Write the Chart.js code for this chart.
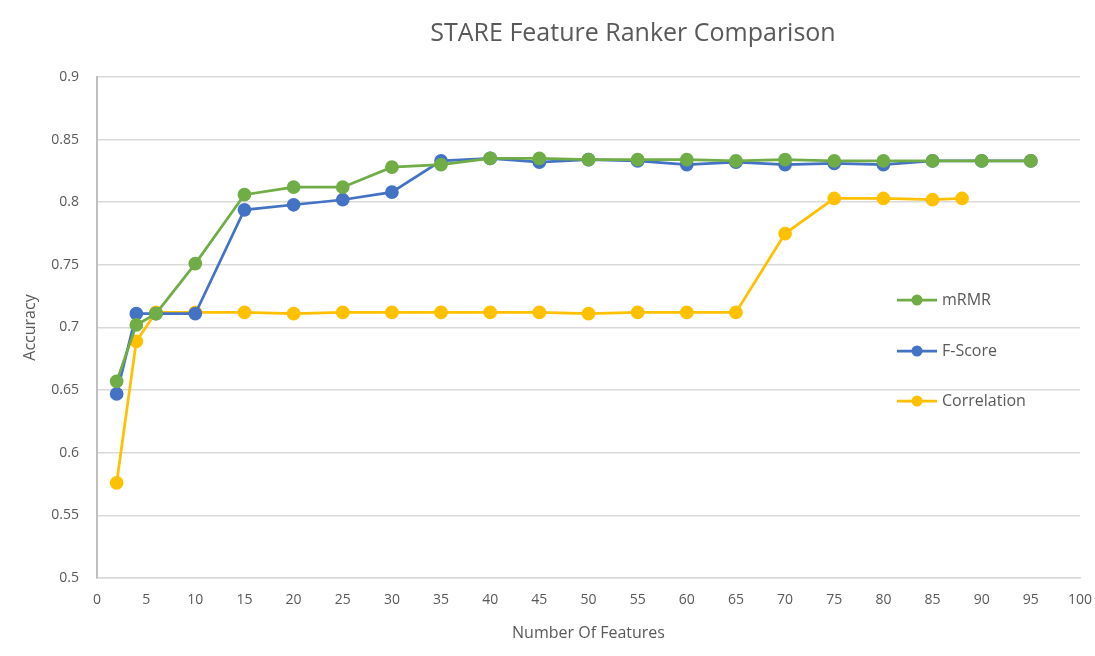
<!DOCTYPE html>
<html>
<head>
<meta charset="utf-8">
<script src="https://cdn.jsdelivr.net/npm/chart.js@4/dist/chart.umd.min.js"></script>
<style>
html,body{margin:0;padding:0;background:#fff;}
#wrap{width:1095px;height:656px;position:relative;}
</style>
</head>
<body>
<div id="wrap"><canvas id="c" width="1095" height="656"></canvas></div>
<script>
const chartTitle = "STARE Feature Ranker Comparison";
const xTitle = "Number Of Features";
const yTitle = "Accuracy";
const seriesNames = ["mRMR", "F-Score", "Correlation"];
const featureCounts = [2, 4, 6, 10, 15, 20, 25, 30, 35, 40, 45, 50, 55, 60, 65, 70, 75, 80, 85, 90, 95];
const mrmr = [0.657, 0.702, 0.711, 0.751, 0.806, 0.812, 0.812, 0.828, 0.830, 0.835, 0.835, 0.834, 0.834, 0.834, 0.833, 0.834, 0.833, 0.833, 0.833, 0.833, 0.833];
const fscore = [0.647, 0.711, 0.711, 0.711, 0.794, 0.798, 0.802, 0.808, 0.833, 0.835, 0.832, 0.834, 0.833, 0.830, 0.832, 0.830, 0.831, 0.830, 0.833, 0.833, 0.833];
const corrFeatureCounts = [2, 4, 6, 10, 15, 20, 25, 30, 35, 40, 45, 50, 55, 60, 65, 70, 75, 80, 85, 88];
const correlation = [0.576, 0.689, 0.712, 0.712, 0.712, 0.711, 0.712, 0.712, 0.712, 0.712, 0.712, 0.711, 0.712, 0.712, 0.712, 0.775, 0.803, 0.803, 0.802, 0.803];
const colors = ["#70AD47", "#4472C4", "#FFC000"];

const FONT = "'Open Sans', 'Liberation Sans', sans-serif";
const TXT = "#595959";

function pts(xs, ys){ return xs.map((x,i)=>({x:x, y:ys[i]})); }

const ds = [
  {label: seriesNames[0], data: pts(featureCounts, mrmr)},
  {label: seriesNames[1], data: pts(featureCounts, fscore)},
  {label: seriesNames[2], data: pts(corrFeatureCounts, correlation)}
].map((d,i)=>Object.assign(d,{
  borderColor: colors[i], backgroundColor: colors[i],
  pointBackgroundColor: colors[i], pointBorderColor: colors[i],
  borderWidth: 2.75, pointRadius: 5.5, pointHoverRadius: 5.5, tension: 0
}));

const textPlugin = {
  id: 'texts',
  afterDraw(chart){
    const ctx = chart.ctx, ca = chart.chartArea;
    ctx.save();
    ctx.fillStyle = TXT;
    ctx.textBaseline = 'middle';
    ctx.textAlign = 'center';
    ctx.font = "25px " + FONT;
    ctx.fillText(chartTitle, 633, 34);
    ctx.font = "16px " + FONT;
    ctx.fillText(xTitle, (ca.left+ca.right)/2, 633);
    ctx.save();
    ctx.translate(30, (ca.top+ca.bottom)/2);
    ctx.rotate(-Math.PI/2);
    ctx.fillText(yTitle, 0, 0);
    ctx.restore();
    // legend
    const ys = [300, 351, 401];
    ctx.font = "16px " + FONT;
    ctx.textAlign = 'left';
    chart.data.datasets.forEach((d,i)=>{
      const y = ys[i];
      ctx.strokeStyle = d.borderColor;
      ctx.lineWidth = 2.75;
      ctx.beginPath(); ctx.moveTo(897, y); ctx.lineTo(937, y); ctx.stroke();
      ctx.fillStyle = d.borderColor;
      ctx.beginPath(); ctx.arc(917, y, 5.5, 0, Math.PI*2); ctx.fill();
      ctx.fillStyle = TXT;
      ctx.fillText(d.label, 942, y);
    });
    ctx.restore();
  }
};

new Chart(document.getElementById('c'), {
  type: 'line',
  data: {datasets: ds},
  options: {
    responsive: false,
    animation: false,
    layout: {padding: {left: 0, right: 15, top: 77, bottom: 0}},
    plugins: {legend: {display: false}, title: {display: false}, tooltip: {enabled: false}},
    scales: {
      x: {
        type: 'linear', min: 0, max: 100,
        ticks: {stepSize: 5, color: TXT, font: {family: FONT, size: 14}, padding: 14, maxRotation: 0, autoSkip: false},
        grid: {display: false, drawTicks: false},
        border: {display: true, color: '#d9d9d9', width: 1.5},
        afterFit(s){ s.height = 78; s.paddingLeft = 0; s.paddingRight = 0; }
      },
      y: {
        min: 0.5, max: 0.9,
        ticks: {stepSize: 0.05, color: TXT, font: {family: FONT, size: 14}, padding: 18,
          callback: v => String(parseFloat(Number(v).toFixed(2)))},
        grid: {color: '#d9d9d9', lineWidth: 1.5, drawTicks: false},
        border: {display: true, color: '#bfbfbf', width: 2},
        afterFit(s){ s.width = 97; s.paddingTop = 0; s.paddingBottom = 0; }
      }
    }
  },
  plugins: [textPlugin]
});
</script>
</body>
</html>
